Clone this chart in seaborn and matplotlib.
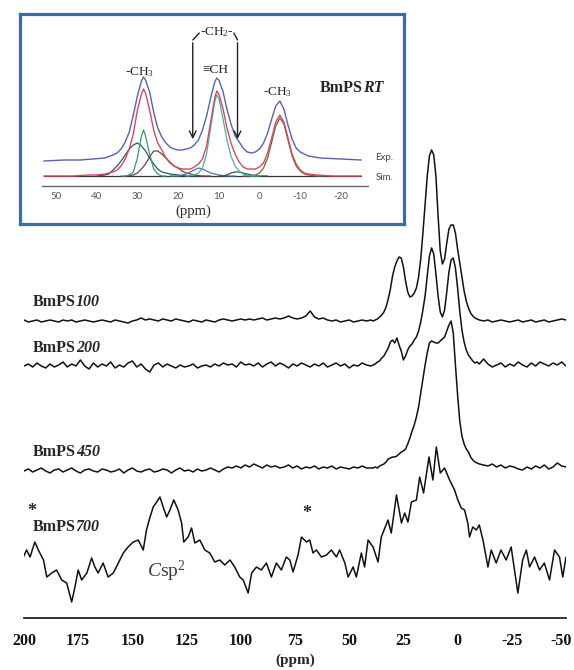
import numpy as np
import matplotlib
matplotlib.use("Agg")
import matplotlib.pyplot as plt
import matplotlib.transforms as mtransforms
import seaborn as sns

# ---------------- data ----------------
# main spectra sampling (ppm)
x_left = np.arange(200, 39, -2)      # 200 ... 40
x_mid = np.arange(39, -11, -1)       # 39 ... -10
x_right = np.arange(-12, -51, -2)    # -12 ... -50

h100_left = [1, -1, 0, 1, -1, 0, 1, 0, -1, 1, 0, 1, -1, 0, 1, 0, -1, 0, 1, 0,
             -1, 1, 0, -1, -2, 0, 1, 3, 1, 2, 1, 0, 2, 1, 0, 2, 1, 0, -1, 1,
             0, -1, 1, 0, -1, 1, 2, 1, 0, 1, 2, 1, 2, 1, 2, 3, 1, 2, 3, 2,
             3, 5, 3, 2, 3, 5, 10, 4, 2, 3, 1, 0, 1, -1, 0, 1, -1, 0, 1, 0, 1]
h100_mid = [0, 1, 2, 4, 6, 9, 14, 22, 32, 45, 54, 60, 64, 63, 54, 40, 29, 24, 25, 28,
            33, 44, 62, 88, 116, 145, 165, 171, 166, 145, 105, 70, 57, 62, 78, 92, 96, 96, 88, 72,
            58, 44, 30, 20, 13, 8, 5, 3, 2, 1]
h100_right = [0, 1, -1, 0, 1, 0, -1, 0, 1, -1, 0, 1, -1, 0, 1, -1, 0, 1, 2, 1]

h200_left = [0, 2, -1, 3, 0, -2, 2, -1, 1, 4, -1, 2, 0, 6, 0, -3, 3, -1, 2, 0,
             4, -2, 1, -1, 3, 5, -1, 2, -3, -6, 1, 3, -1, 2, 0, -2, 1, -1, 0, 2,
             -2, 0, 1, -1, 2, 0, 3, 1, 2, -1, 4, 1, 2, 0, 3, -1, 2, 4, 0, 3,
             1, -2, 2, 0, 3, 1, -1, 2, 0, 3, -1, 1, 3, 0, 2, -2, 1, 0, 3, 1, 0]
h200_mid = [1, 2, 4, 5, 8, 10, 14, 18, 24, 26, 23, 28, 21, 15, 6, 10, 16, 20, 22, 26,
            29, 35, 44, 56, 70, 90, 110, 118, 112, 92, 70, 54, 49, 56, 74, 94, 106, 108, 98, 78,
            55, 36, 24, 16, 11, 8, 5, 3, 4, 2]
h200_right = [7, 2, -1, 1, 3, -1, 2, 0, 4, 1, -1, 3, 0, 4, 2, 0, 3, 1, 4, 0]

h450_left = [0, 2, -1, 1, 3, 0, -2, 1, 2, -1, 1, 3, 0, -2, 1, 2, 0, -1, 2, 1,
             -1, 0, 2, -2, 1, 3, 0, -1, 1, 2, -1, 0, 2, 1, -2, 1, 3, 0, 1, -1,
             2, 0, 1, 3, 1, -1, 2, 4, 3, 5, 3, 6, 4, 7, 5, 3, 6, 4, 5, 3,
             4, 6, 3, 5, 2, 4, 3, 5, 2, 4, 3, 5, 2, 4, 3, 2, 4, 3, 5, 3, 3]
h450_mid = [3, 4, 3, 5, 6, 7, 9, 12, 13, 14, 14, 15, 17, 19, 20, 22, 27, 33, 40, 46,
            54, 64, 78, 92, 106, 118, 128, 130, 129, 128, 128, 130, 132, 134, 140, 146, 150, 138, 106, 76,
            50, 35, 27, 22, 19, 14, 11, 9, 8, 7]
h450_right = [6, 5, 7, 4, 6, 3, 5, 4, 2, 1, 4, 2, 5, 3, 6, 2, 4, 8, 5, 4]

x700 = [200.3, 198.8, 197.2, 195, 193.4, 191, 189.5, 187.2, 185, 182.6, 180.3, 178, 176.5, 175,
        173.4, 171, 168.8, 167.3, 165.8, 163.5, 161.2, 158.8, 156.5, 154.2, 152, 149.6, 147.3,
        145, 143.5, 142, 140.4, 138.8, 137.3, 135.8, 134.2, 132.7, 130.9, 128.9, 127.3, 126.3,
        124.3, 122.7, 121.2, 118.9, 116.6, 114.3, 112, 109.7, 107.4, 105, 102.8, 100.5, 98.9,
        96.6, 95, 92.8, 90.5, 88.2, 85.9, 83.6, 81.3, 79, 77.4, 75.9, 73.6, 72, 69.7, 68.2,
        66.7, 65.1, 62.8, 60.5, 58.2, 55.9, 54.4, 52, 50.5, 48.2, 46.7, 44.4, 42.9, 41.3, 39,
        36.7, 35.2, 32.1, 30.6, 28.2, 25.9, 24.4, 22.9, 21.3, 19, 17.5, 15.7, 13.2, 11.4, 9.8,
        8, 6, 3.7, 1.4, -0.1, -1.7, -3.2, -4.7, -5.5, -7, -8.6, -10, -11.7, -14, -15.5, -17.8,
        -20, -22.4, -24.7, -27.8, -30, -31.7, -33.2, -35.5, -37.8, -40, -42.4, -44.7, -47,
        -48.5, -50]
h700 = [61, 68, 61, 76, 68, 58, 41, 45, 48, 38, 35, 16, 31, 48,
        38, 45, 60, 51, 45, 55, 41, 45, 55, 65, 71, 76, 78,
        68, 88, 100, 111, 116, 121, 111, 101, 108, 118, 108, 95, 76,
        81, 90, 75, 78, 68, 65, 56, 58, 53, 58, 51, 41, 38,
        25, 45, 51, 48, 55, 41, 55, 48, 61, 58, 46, 63, 81, 76, 78,
        65, 68, 61, 63, 68, 61, 68, 55, 41, 51, 41, 65, 51, 78, 71,
        56, 81, 98, 85, 123, 95, 105, 96, 116, 118, 141, 125, 161, 138, 171,
        145, 150, 138, 128, 118, 110, 108, 95, 81, 91, 88, 93, 78, 51, 68, 55,
        68, 58, 71, 25, 58, 68, 51, 61, 48, 55, 38, 68, 61,
        41, 61]

offsets = {"100": 297, "200": 252, "450": 147}
tick_vals = [200, 175, 150, 125, 100, 75, 50, 25, 0, -25, -50]
tick_labels = ["200", "175", "150", "125", "100", "75", "50", "25", "0", "-25", "-50"]

# inset (BmPSRT) curves, heights above the Sim. baseline
exp_x = [53, 48, 44, 41, 38, 36, 35, 34, 33, 32, 31, 30, 29, 28.5, 28, 27, 26, 25, 24, 23,
         22, 21, 20, 19, 18, 17, 16, 15, 14, 13, 12, 11, 10.5, 10, 9, 8, 7, 6, 5, 4,
         3, 2, 1, 0, -1, -2, -3, -4, -5, -6, -7, -8, -9, -10, -12, -15, -20, -25]
exp_y = [15, 16, 16, 17, 18, 21, 23, 27, 34, 44, 61, 80, 95, 99, 96, 84, 64, 48, 39, 33,
         29, 27, 26, 26, 27, 28, 31, 36, 46, 60, 78, 94, 98, 96, 85, 67, 52, 40, 34, 28,
         24, 23, 24, 27, 33, 43, 57, 70, 75, 67, 51, 37, 28, 24, 20, 18, 17, 16]
sim_x = [53, 46, 42, 40, 38, 36, 35, 34, 33, 32, 31, 30, 29, 28.5, 28, 27, 26, 25, 24, 23,
         22, 21, 20, 19, 18, 17, 16, 15, 14, 13, 12, 11, 10.5, 10, 9, 8, 7, 6, 5, 4,
         3, 2, 1, 0, -1, -2, -3, -4, -5, -6, -7, -8, -9, -10, -11, -12, -14, -18, -25]
sim_y = [0, 0, 1, 1, 2, 4, 6, 10, 17, 27, 42, 66, 82, 87, 83, 66, 46, 33, 26, 18,
         13, 10, 8, 7, 7, 7, 9, 12, 17, 30, 54, 78, 85, 82, 68, 48, 33, 22, 14, 9,
         7, 7, 7, 9, 13, 23, 38, 54, 61, 54, 38, 22, 12, 6, 3, 2, 1, 0, 0]
base_x = [53, -25]
base_y = [0, 0]
green_x = [34, 33, 32, 31, 30, 29, 28.5, 28, 27, 26, 25, 24, 23]
green_y = [0, 0, 1, 4, 18, 40, 46, 40, 22, 7, 2, 0, 0]
slate_x = [40, 38, 37, 36, 35, 34, 33, 32, 31, 30, 29, 28, 27, 26, 25, 24, 23, 22, 20, 18, 15]
slate_y = [0, 1, 2, 6, 10, 15, 21, 27, 31, 33, 30, 25, 18, 12, 7, 4, 3, 2, 1, 0, 0]
brown_x = [33, 31, 30, 29, 28, 27, 26, 25, 24, 23, 22, 21, 20, 19, 18, 17, 16, 14, 12]
brown_y = [0, 1, 3, 7, 12, 19, 25, 25, 22, 18, 14, 10, 8, 5, 3, 2, 1, 0, 0]
bump_x = [22, 20, 19, 18, 17, 16, 15, 14, 13, 12, 11, 10, 8, 6]
bump_y = [0, 0, 1, 2, 4, 6, 8, 7, 5, 3, 2, 1, 0, 0]
teal_x = [18, 16, 15, 14, 13, 12, 11, 10.5, 10, 9, 8, 7, 6, 5, 4, 3, 2, 0]
teal_y = [0, 1, 3, 8, 22, 48, 74, 81, 78, 58, 36, 20, 10, 5, 2, 1, 0, 0]
small_x = [10, 9, 8, 7, 6, 5, 4, 3, 2, 0, -2]
small_y = [0, 0, 1, 3, 4, 4, 3, 2, 1, 0, 0]
olive_x = [4, 2, 1, 0, -1, -2, -3, -4, -5, -6, -7, -8, -9, -10, -11, -12, -14, -16]
olive_y = [0, 0, 1, 3, 8, 18, 34, 50, 58, 52, 36, 20, 10, 5, 2, 1, 0, 0]
inset_ticks = [50, 40, 30, 20, 10, 0, -10, -20]
inset_labels = ["50", "40", "30", "20", "10", "0", "-10", "-20"]

# ---------------- styling ----------------
sns.set_style("white")
plt.rcParams["font.family"] = ["Liberation Serif", "DejaVu Serif"]
plt.rcParams["mathtext.fontset"] = "custom"
plt.rcParams["mathtext.rm"] = "Liberation Serif"
plt.rcParams["mathtext.it"] = "Liberation Serif:italic"
plt.rcParams["mathtext.bf"] = "Liberation Serif:bold"

W, H = 574, 670
fig = plt.figure(figsize=(W / 100, H / 100), dpi=100)
fig.patch.set_facecolor("white")


def fx(px):
    return px / W


def fy(py):
    return 1 - py / H


# ---------------- main axes ----------------
ax = fig.add_axes([fx(24), fy(618), 542 / W, 478 / H])
ax.patch.set_visible(False)

x_all = np.concatenate([x_left, x_mid, x_right])
for key, (hl, hm, hr) in {"100": (h100_left, h100_mid, h100_right),
                          "200": (h200_left, h200_mid, h200_right),
                          "450": (h450_left, h450_mid, h450_right)}.items():
    y = np.concatenate([hl, hm, hr]) + offsets[key]
    sns.lineplot(x=x_all, y=y, ax=ax, color="#111111", linewidth=1.1, sort=False, estimator=None)
sns.lineplot(x=x700, y=h700, ax=ax, color="#111111", linewidth=1.1, sort=False, estimator=None)

ax.set_xlim(200, -50)
ax.set_ylim(0, 478)
for s in ["left", "top", "right"]:
    ax.spines[s].set_visible(False)
ax.spines["bottom"].set_linewidth(1.2)
ax.spines["bottom"].set_color("#111111")
ax.set_yticks([])
ax.set_ylabel("")
ax.set_xticks(tick_vals)
ax.set_xticklabels(tick_labels, fontweight="bold", fontsize=11.5)
ax.tick_params(axis="x", direction="out", length=4, width=1.2, pad=7, colors="#111111")
ax.set_xlabel("(ppm)", fontweight="bold", fontsize=11, labelpad=3)
# keep the last label inside the figure, as in the reference
last = ax.get_xticklabels()[-1]
last.set_transform(last.get_transform() + mtransforms.ScaledTranslation(-5 / 100, 0, fig.dpi_scale_trans))

labels = [("100", 316), ("200", 270), ("450", 166), ("700", 91)]
for num, yy in labels:
    t = ax.text(195.9, yy, "BmPS", fontweight="bold", fontsize=11.5, va="center", ha="left")
    ax.annotate(num, xy=(1, 0.5), xycoords=t, va="center", ha="left",
                fontweight="bold", fontstyle="italic", fontsize=11.5)
ax.text(196.3, 107, "*", fontweight="bold", fontsize=13, ha="center", va="center")
ax.text(69.5, 104, "*", fontweight="bold", fontsize=13, ha="center", va="center")
ax.text(143.3, 41, r"$\mathit{C}\mathrm{sp}^{2}$", fontsize=14, ha="left", va="baseline", color="#3a3a3a")

# ---------------- inset ----------------
frame = fig.add_axes([fx(20), fy(224), 384 / W, 210 / H])
frame.set_xticks([])
frame.set_yticks([])
frame.set_facecolor("white")
for s in frame.spines.values():
    s.set_color("#3f6c9f")
    s.set_linewidth(2.3)

ai = fig.add_axes([fx(42), fy(186), 326 / W, 166 / H])
ai.patch.set_visible(False)
ai.set_xlim(53.44, -26.66)
ai.set_ylim(-10, 156)

comp = [(base_x, base_y, "#333333"), (slate_x, slate_y, "#2f5566"), (brown_x, brown_y, "#6b4a3a"),
        (bump_x, bump_y, "#4a74b0"), (small_x, small_y, "#3a4a55"), (olive_x, olive_y, "#6e6a3c"),
        (green_x, green_y, "#2e9e6e"), (teal_x, teal_y, "#3db3ae")]
for cx, cy, cc in comp:
    sns.lineplot(x=cx, y=cy, ax=ai, color=cc, linewidth=0.9, sort=False, estimator=None)
sns.lineplot(x=sim_x, y=sim_y, ax=ai, color="#d8485a", linewidth=1.0, sort=False, estimator=None)
sns.lineplot(x=exp_x, y=exp_y, ax=ai, color="#5563b3", linewidth=1.0, sort=False, estimator=None)

for s in ["left", "top", "right"]:
    ai.spines[s].set_visible(False)
ai.spines["bottom"].set_position(("data", -10))
ai.spines["bottom"].set_color("#666666")
ai.spines["bottom"].set_linewidth(1.0)
ai.set_yticks([])
ai.set_ylabel("")
ai.set_xlabel("")
ai.set_xticks(inset_ticks)
ai.set_xticklabels(inset_labels, fontsize=7, color="#555555", family=["Lato", "DejaVu Sans"])
ai.tick_params(axis="x", direction="in", length=2, width=0.6, pad=4, colors="#888888", labelcolor="#555555")
ai.text(16.3, -35, "(ppm)", ha="center", va="center", fontsize=10.5, clip_on=False)

ai.text(29.4, 104, r"-CH$_3$", ha="center", va="center", fontsize=9.5)
ai.text(10.9, 106, "\u2261CH", ha="center", va="center", fontsize=9.5)
ai.text(10.4, 144, r"-CH$_2$-", ha="center", va="center", fontsize=9.5)
ai.text(-4.5, 84, r"-CH$_3$", ha="center", va="center", fontsize=9.5)
tb = ai.text(-14.9, 88, "BmPS", fontweight="bold", fontsize=11.5, ha="left", va="center", clip_on=False)
ai.annotate("RT", xy=(1, 0.5), xycoords=tb, va="center", ha="left",
            fontweight="bold", fontstyle="italic", fontsize=11.5)
ai.text(-28.5, 19, "Exp.", fontsize=7, color="#444444", family=["Lato", "DejaVu Sans"],
        ha="left", va="center", clip_on=False)
ai.text(-28.5, -2, "Sim.", fontsize=7, color="#444444", family=["Lato", "DejaVu Sans"],
        ha="left", va="center", clip_on=False)

# bracket with arrows for -CH2-
ai.plot([14.8, 16.4], [143, 136], color="#222222", lw=1.0)
ai.plot([6.3, 5.4], [143, 136], color="#222222", lw=1.0)
ai.annotate("", xy=(16.4, 34), xytext=(16.4, 136),
            arrowprops=dict(arrowstyle="->", color="#222222", lw=1.0, mutation_scale=12))
ai.annotate("", xy=(5.4, 34), xytext=(5.4, 136),
            arrowprops=dict(arrowstyle="->", color="#222222", lw=1.0, mutation_scale=12))

fig.savefig("out.png", dpi=100, facecolor="white")
